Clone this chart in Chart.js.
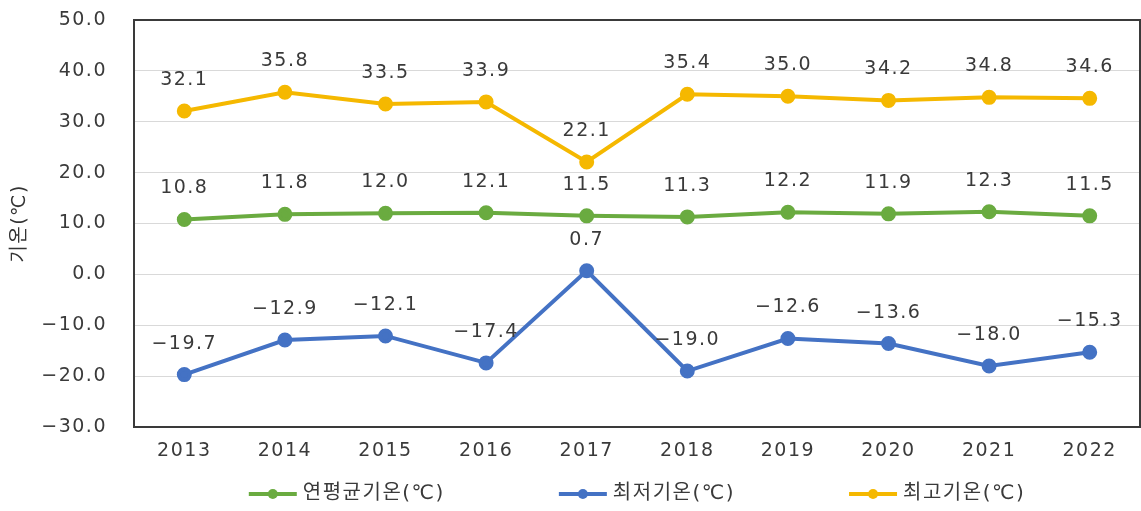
<!DOCTYPE html>
<html lang="ko">
<head>
<meta charset="utf-8">
<script src="https://cdn.jsdelivr.net/npm/chart.js@4.4.1/dist/chart.umd.min.js"></script>
<style>
  html, body { margin: 0; padding: 0; background: #fff; }
  #wrap { width: 1141px; height: 511px; }
</style>
</head>
<body>
<div id="wrap"><canvas id="tempChart"></canvas></div>
<script>
// --- data ---
const years = ["2013", "2014", "2015", "2016", "2017", "2018", "2019", "2020", "2021", "2022"];
const avgTemp = [10.8, 11.8, 12.0, 12.1, 11.5, 11.3, 12.2, 11.9, 12.3, 11.5];
const minTemp = [-19.7, -12.9, -12.1, -17.4, 0.7, -19.0, -12.6, -13.6, -18.0, -15.3];
const maxTemp = [32.1, 35.8, 33.5, 33.9, 22.1, 35.4, 35.0, 34.2, 34.8, 34.6];
const seriesNames = ["연평균기온(℃)", "최저기온(℃)", "최고기온(℃)"];
const yTicks = [-30, -20, -10, 0, 10, 20, 30, 40, 50];

const FONT = "'DejaVu Sans', 'Noto Sans CJK KR', sans-serif";
const TEXT = "#3a3a3a";
const fmt = v => v.toFixed(1).replace("-", "\u2212");

// 글자 간격 (원본이 가로로 늘어나 있음)
const spacing = {
  id: "spacing",
  beforeUpdate(chart) { chart.ctx.letterSpacing = "1.5px"; },
  beforeDraw(chart) { chart.ctx.letterSpacing = "1.5px"; }
};

// 플롯 테두리
const frame = {
  id: "frame",
  beforeDatasetsDraw(chart) {
    const { ctx, chartArea: a } = chart;
    ctx.save();
    ctx.strokeStyle = "#3a3a3a";
    ctx.lineWidth = 2;
    ctx.strokeRect(a.left, a.top, a.right - a.left, a.bottom - a.top);
    ctx.restore();
  }
};

// 데이터 라벨
const valueLabels = {
  id: "valueLabels",
  afterDatasetsDraw(chart) {
    const ctx = chart.ctx;
    ctx.save();
    ctx.font = "19px " + FONT;
    ctx.fillStyle = TEXT;
    ctx.textAlign = "center";
    ctx.textBaseline = "middle";
    chart.data.datasets.forEach((ds, i) => {
      chart.getDatasetMeta(i).data.forEach((pt, j) => {
        ctx.fillText(fmt(ds.data[j]), pt.x, pt.y - 31);
      });
    });
    ctx.restore();
  }
};

// 범례 (플롯 영역 가운데 정렬)
const bottomLegend = {
  id: "bottomLegend",
  afterDraw(chart) {
    const { ctx, chartArea: a } = chart;
    const lineW = 48, gap = 6, between = 114;
    ctx.save();
    ctx.font = "20px " + FONT;
    ctx.textBaseline = "middle";
    const items = chart.data.datasets.map(ds => ({
      text: ds.label, color: ds.borderColor,
      w: lineW + gap + ctx.measureText(ds.label).width
    }));
    const total = items.reduce((s, it) => s + it.w, 0) + between * (items.length - 1);
    let x = (a.left + a.right) / 2 - total / 2;
    const y = chart.height - 17;
    items.forEach(it => {
      ctx.strokeStyle = it.color;
      ctx.lineWidth = 4;
      ctx.beginPath();
      ctx.moveTo(x, y);
      ctx.lineTo(x + lineW, y);
      ctx.stroke();
      ctx.fillStyle = it.color;
      ctx.beginPath();
      ctx.arc(x + lineW / 2, y, 5, 0, Math.PI * 2);
      ctx.fill();
      ctx.fillStyle = TEXT;
      ctx.textAlign = "left";
      ctx.fillText(it.text, x + lineW + gap, y);
      x += it.w + between;
    });
    ctx.restore();
  }
};

function series(label, data, color) {
  return {
    label, data,
    borderColor: color, backgroundColor: color,
    borderWidth: 4, pointRadius: 5.5, pointHoverRadius: 5.5,
    tension: 0
  };
}

new Chart(document.getElementById("tempChart"), {
  type: "line",
  data: {
    labels: years,
    datasets: [
      series(seriesNames[0], avgTemp, "#6aab40"),
      series(seriesNames[1], minTemp, "#4472c4"),
      series(seriesNames[2], maxTemp, "#f5b800")
    ]
  },
  options: {
    animation: false,
    responsive: true,
    maintainAspectRatio: false,
    layout: { autoPadding: false, padding: { top: 20, right: 1, bottom: 48, left: 0 } },
    plugins: { legend: { display: false }, tooltip: { enabled: false } },
    scales: {
      x: {
        offset: true,
        afterFit: s => { s.height = 36; s.paddingLeft = 0; s.paddingRight = 0; },
        grid: { display: false, drawTicks: false },
        border: { display: false },
        ticks: { padding: 13, color: TEXT, font: { family: FONT, size: 19 } }
      },
      y: {
        min: -30, max: 50,
        afterBuildTicks: s => { s.ticks = yTicks.map(v => ({ value: v })); },
        afterFit: s => { s.width = 134; s.paddingTop = 0; s.paddingBottom = 0; },
        grid: { color: "#d9d9d9", lineWidth: 1, drawTicks: false },
        border: { display: false },
        ticks: { padding: 27, color: TEXT, font: { family: FONT, size: 19 }, callback: v => fmt(v) },
        title: { display: true, text: "기온(℃)", color: "#333", padding: { top: 9, bottom: 0 }, font: { family: FONT, size: 19 } }
      }
    }
  },
  plugins: [spacing, frame, valueLabels, bottomLegend]
});
</script>
</body>
</html>
